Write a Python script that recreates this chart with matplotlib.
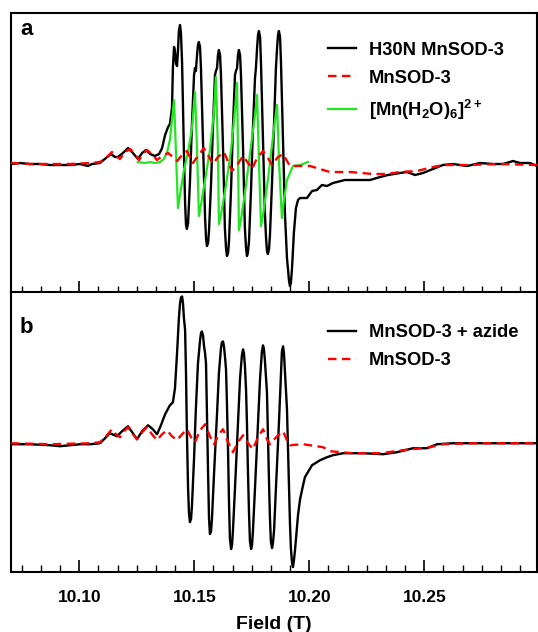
import matplotlib
matplotlib.use('Agg')
import matplotlib.pyplot as plt
from matplotlib.ticker import MultipleLocator

plt.rcParams['font.family'] = ['Liberation Sans', 'DejaVu Sans']
plt.rcParams['font.weight'] = 'bold'
plt.rcParams['mathtext.fontset'] = 'custom'
plt.rcParams['mathtext.rm'] = 'Liberation Sans:bold'
plt.rcParams['mathtext.bf'] = 'Liberation Sans:bold'
plt.rcParams['mathtext.default'] = 'bf'

# panel a: H30N MnSOD-3 (field in T, intensity in arb. units)
h30n_field = [10.0703, 10.0742, 10.0786, 10.0829, 10.0873, 10.0916, 10.0960, 10.1003, 10.1038, 10.1055,
              10.1090, 10.1116, 10.1138, 10.1155, 10.1168, 10.1190, 10.1212, 10.1233, 10.1255, 10.1273,
              10.1290, 10.1308, 10.1329, 10.1347, 10.1360, 10.1373, 10.1386, 10.1394, 10.1403, 10.1407,
              10.1412, 10.1416, 10.1420, 10.1425, 10.1429, 10.1433, 10.1438, 10.1442, 10.1447, 10.1455,
              10.1460, 10.1464, 10.1468, 10.1473, 10.1481, 10.1490, 10.1499, 10.1503, 10.1507, 10.1512,
              10.1516, 10.1520, 10.1525, 10.1529, 10.1538, 10.1547, 10.1551, 10.1555, 10.1560, 10.1564,
              10.1573, 10.1581, 10.1590, 10.1594, 10.1599, 10.1603, 10.1607, 10.1612, 10.1616, 10.1625,
              10.1633, 10.1638, 10.1642, 10.1647, 10.1651, 10.1660, 10.1668, 10.1677, 10.1681, 10.1686,
              10.1690, 10.1694, 10.1699, 10.1703, 10.1712, 10.1720, 10.1725, 10.1729, 10.1733, 10.1738,
              10.1747, 10.1755, 10.1764, 10.1768, 10.1773, 10.1777, 10.1781, 10.1786, 10.1790, 10.1799,
              10.1807, 10.1812, 10.1816, 10.1820, 10.1825, 10.1829, 10.1838, 10.1847, 10.1855, 10.1860,
              10.1864, 10.1868, 10.1873, 10.1877, 10.1886, 10.1894, 10.1903, 10.1912, 10.1916, 10.1920,
              10.1925, 10.1933, 10.1942, 10.1951, 10.1960, 10.1990, 10.2012, 10.2033, 10.2055, 10.2077,
              10.2103, 10.2155, 10.2264, 10.2308, 10.2342, 10.2394, 10.2425, 10.2460, 10.2494, 10.2538,
              10.2581, 10.2625, 10.2686, 10.2742, 10.2799, 10.2842, 10.2886, 10.2916, 10.2960, 10.2990]
h30n_int = [-1, 0, -1, -1, -2, -2, -2, -1, -3, -1,
            0, 5, 9, 6, 6, 10, 15, 10, 4, 10,
            13, 9, 7, 9, 15, 28, 36, 39, 55, 95,
            116, 112, 100, 97, 112, 132, 138, 130, 100, 10,
            -40, -62, -66, -60, -20, 40, 88, 95, 92, 108,
            118, 121, 116, 95, 20, -55, -75, -83, -80, -68,
            -20, 35, 88, 92, 95, 108, 113, 108, 88, 15,
            -65, -85, -93, -90, -78, -25, 35, 88, 92, 95,
            108, 113, 108, 88, 15, -65, -85, -93, -90, -78,
            -25, 35, 85, 95, 115, 128, 132, 126, 100, 20,
            -50, -75, -88, -91, -86, -72, -20, 40, 95, 115,
            128, 132, 126, 100, 20, -50, -95, -118, -123, -120,
            -105, -70, -45, -37, -35, -35, -28, -27, -22, -23,
            -20, -17, -17, -14, -12, -10, -9, -12, -10, -6,
            -2, -1, -3, 0, -1, -1, 2, 0, 0, -3]

# panel a: MnSOD-3
sod_a_field = [10.0703, 10.0786, 10.0873, 10.0960, 10.1047, 10.1090, 10.1116, 10.1142, 10.1160, 10.1177,
               10.1199, 10.1221, 10.1238, 10.1260, 10.1277, 10.1294, 10.1316, 10.1338, 10.1360, 10.1386,
               10.1407, 10.1425, 10.1447, 10.1468, 10.1494, 10.1516, 10.1542, 10.1564, 10.1581, 10.1603,
               10.1629, 10.1647, 10.1664, 10.1686, 10.1712, 10.1734, 10.1751, 10.1773, 10.1799, 10.1820,
               10.1838, 10.1864, 10.1886, 10.1903, 10.1916, 10.1960, 10.2003, 10.2047, 10.2090, 10.2177,
               10.2277, 10.2338, 10.2394, 10.2468, 10.2538, 10.2581, 10.2686, 10.2829, 10.2990]
sod_a_int = [0, -1, -1, -1, 0, 1, 5, 11, 7, 4,
             11, 14, 10, 3, 9, 13, 9, 3, 7, 10,
             6, 2, 8, 12, 0, 7, 15, 6, -1, 6,
             11, 1, -8, -2, 7, 0, -6, 5, 12, 5,
             -2, 6, 9, 2, -3, -3, -3, -6, -9, -9,
             -11, -11, -9, -8, -4, -2, -2, -1, -2]

# panel a: [Mn(H2O)6]2+
mnaq_field = [10.1255, 10.1286, 10.1308, 10.1329, 10.1351, 10.1368, 10.1381, 10.1394, 10.1403, 10.1412,
              10.1420, 10.1429, 10.1438, 10.1455, 10.1473, 10.1490, 10.1503, 10.1512, 10.1520, 10.1529,
              10.1547, 10.1568, 10.1586, 10.1594, 10.1603, 10.1607, 10.1616, 10.1638, 10.1660, 10.1677,
              10.1686, 10.1690, 10.1694, 10.1703, 10.1725, 10.1747, 10.1764, 10.1773, 10.1781, 10.1790,
              10.1799, 10.1820, 10.1838, 10.1851, 10.1860, 10.1868, 10.1881, 10.1890, 10.1903, 10.1929,
              10.1960, 10.1994]
mnaq_int = [1, 0, 1, 0, 1, 4, 10, 23, 43, 63,
            13, -45, -32, -7, 11, 35, 71, 13, -53, -42,
            -17, 13, 53, 86, 13, -61, -52, -22, 13, 53,
            80, 13, -67, -57, -22, 18, 48, 68, 3, -63,
            -52, -17, 18, 43, 58, 3, -55, -37, -17, -3,
            -2, 1]

# panel b: MnSOD-3 + azide
azide_field = [10.0703, 10.0786, 10.0873, 10.0916, 10.0960, 10.1003, 10.1047, 10.1090, 10.1112, 10.1133,
               10.1164, 10.1186, 10.1212, 10.1233, 10.1251, 10.1273, 10.1299, 10.1320, 10.1338, 10.1355,
               10.1373, 10.1394, 10.1407, 10.1416, 10.1425, 10.1433, 10.1438, 10.1442, 10.1447, 10.1451,
               10.1455, 10.1460, 10.1464, 10.1468, 10.1473, 10.1477, 10.1481, 10.1486, 10.1490, 10.1499,
               10.1507, 10.1516, 10.1525, 10.1529, 10.1533, 10.1538, 10.1542, 10.1547, 10.1551, 10.1555,
               10.1560, 10.1564, 10.1568, 10.1573, 10.1577, 10.1586, 10.1599, 10.1607, 10.1616, 10.1620,
               10.1625, 10.1629, 10.1633, 10.1638, 10.1642, 10.1647, 10.1651, 10.1655, 10.1660, 10.1664,
               10.1668, 10.1677, 10.1690, 10.1699, 10.1707, 10.1712, 10.1716, 10.1720, 10.1725, 10.1729,
               10.1733, 10.1738, 10.1742, 10.1747, 10.1751, 10.1755, 10.1764, 10.1777, 10.1786, 10.1794,
               10.1799, 10.1803, 10.1807, 10.1812, 10.1816, 10.1820, 10.1825, 10.1829, 10.1833, 10.1838,
               10.1842, 10.1847, 10.1855, 10.1868, 10.1877, 10.1881, 10.1886, 10.1890, 10.1894, 10.1899,
               10.1903, 10.1907, 10.1912, 10.1916, 10.1920, 10.1925, 10.1929, 10.1933, 10.1938, 10.1947,
               10.1951, 10.1960, 10.1973, 10.1981, 10.2012, 10.2047, 10.2077, 10.2103, 10.2147, 10.2234,
               10.2321, 10.2381, 10.2451, 10.2512, 10.2555, 10.2625, 10.2729, 10.2842, 10.2916, 10.2990]
azide_int = [-1, -1, -2, -3, -2, -1, -1, 0, 5, 10,
             7, 12, 17, 10, 4, 12, 18, 14, 9, 18,
             29, 38, 41, 55, 90, 125, 140, 146, 147, 140,
             125, 114, 70, 10, -45, -70, -79, -76, -62, -15,
             35, 80, 103, 110, 112, 108, 98, 90, 80, 30,
             -30, -75, -91, -88, -75, -30, 30, 70, 95, 101,
             102, 97, 88, 74, 40, -10, -60, -96, -106, -102,
             -88, -45, 20, 65, 88, 94, 90, 78, 54, 20,
             -25, -70, -98, -106, -102, -88, -45, 20, 65, 92,
             98, 94, 83, 65, 51, 10, -40, -75, -98, -105,
             -100, -87, -45, 20, 70, 92, 97, 90, 73, 50,
             34, 0, -40, -80, -105, -120, -124, -118, -107, -82,
             -72, -56, -42, -34, -22, -17, -14, -12, -10, -10,
             -11, -9, -5, -5, -1, 0, 0, 0, 0, 0]

# panel b: MnSOD-3
sod_b_field = [10.0703, 10.0873, 10.1047, 10.1090, 10.1116, 10.1142, 10.1160, 10.1177, 10.1195, 10.1212,
               10.1233, 10.1251, 10.1273, 10.1294, 10.1316, 10.1338, 10.1360, 10.1381, 10.1403, 10.1425,
               10.1447, 10.1468, 10.1486, 10.1503, 10.1525, 10.1547, 10.1568, 10.1586, 10.1607, 10.1625,
               10.1647, 10.1668, 10.1690, 10.1712, 10.1734, 10.1755, 10.1777, 10.1799, 10.1816, 10.1829,
               10.1860, 10.1886, 10.1903, 10.1916, 10.1973, 10.2003, 10.2060, 10.2090, 10.2190, 10.2308,
               10.2407, 10.2525, 10.2581, 10.2699, 10.2990]
sod_b_int = [0, -1, 0, 1, 7, 14, 9, 6, 12, 16,
             9, 4, 11, 16, 9, 3, 9, 13, 7, 3,
             9, 14, 6, 1, 13, 19, 7, -1, 9, 14,
             1, -9, 1, 8, 0, -6, 6, 14, 4, -1,
             7, 12, 3, -2, -1, -2, -4, -8, -10, -10,
             -7, -4, -1, 0, 0]

x_min, x_max = 10.0703, 10.299
green = '#22e622'
leg_kw = dict(loc='upper left', frameon=False, fontsize=13.2, handlelength=1.55,
              handletextpad=0.7, labelspacing=0.6, borderpad=0)


def style_axis(ax):
    ax.set_xlim(x_min, x_max)
    ax.xaxis.set_major_locator(MultipleLocator(0.05))
    ax.xaxis.set_minor_locator(MultipleLocator(0.05 / 6))
    ax.tick_params(axis='x', which='major', direction='in', length=9, width=1.2,
                   top=False, labelsize=12.5, pad=13)
    ax.tick_params(axis='x', which='minor', direction='in', length=5, width=1.0, top=False)
    ax.tick_params(axis='y', left=False, right=False, labelleft=False)
    for s in ax.spines.values():
        s.set_linewidth(1.5)


fig = plt.figure(figsize=(5.38, 6.32), dpi=100)
ax_a = fig.add_axes([0.0204, 0.5364, 0.9777, 0.4430])
ax_b = fig.add_axes([0.0204, 0.0949, 0.9777, 0.4423])

ax_a.plot(h30n_field, h30n_int, color='black', lw=1.7, zorder=2, label='H30N MnSOD-3')
ax_a.plot(sod_a_field, sod_a_int, color='red', lw=1.7, dashes=(3.6, 2.3), zorder=4, label='MnSOD-3')
ax_a.plot(mnaq_field, mnaq_int, color=green, lw=1.6, zorder=3, label='[Mn(H$_2$O)$_6$]$^{2+}$')
ax_a.set_ylim(-130, 150)
style_axis(ax_a)
ax_a.tick_params(axis='x', which='both', labelbottom=False)
ax_a.text(0.017, 0.921, 'a', transform=ax_a.transAxes, fontsize=16, fontweight='bold', va='baseline')
ax_a.legend(bbox_to_anchor=(0.585, 0.93), **leg_kw)

ax_b.plot(azide_field, azide_int, color='black', lw=1.7, zorder=2, label='MnSOD-3 + azide')
ax_b.plot(sod_b_field, sod_b_int, color='red', lw=1.7, dashes=(3.6, 2.3), zorder=4, label='MnSOD-3')
ax_b.set_ylim(-129, 151)
style_axis(ax_b)
ax_b.text(0.017, 0.855, 'b', transform=ax_b.transAxes, fontsize=16, fontweight='bold', va='baseline')
ax_b.legend(bbox_to_anchor=(0.585, 0.92), **leg_kw)
ax_b.set_xlabel('Field (T)', fontsize=14, fontweight='bold', labelpad=8)

fig.savefig('out.png', dpi=100)
